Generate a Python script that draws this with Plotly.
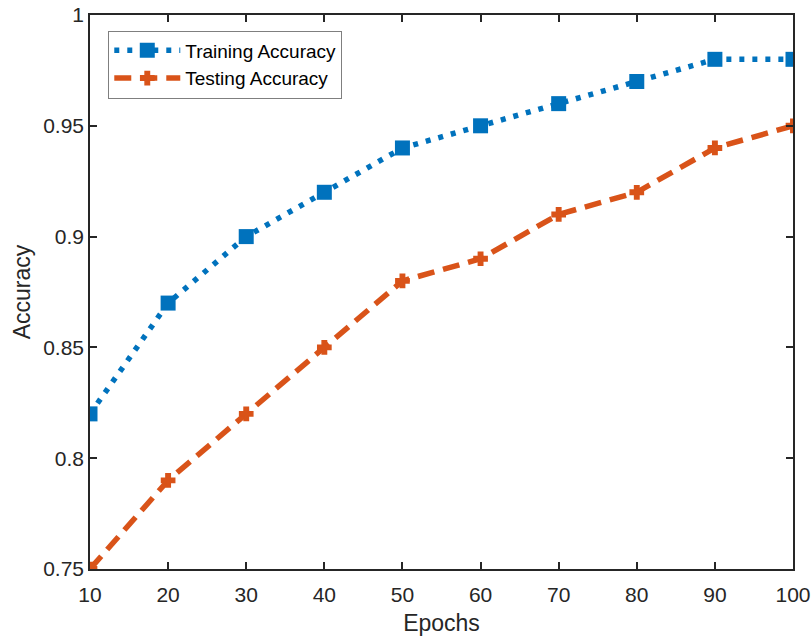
import plotly.graph_objects as go

epochs = [10, 20, 30, 40, 50, 60, 70, 80, 90, 100]
train_acc = [0.82, 0.87, 0.90, 0.92, 0.94, 0.95, 0.96, 0.97, 0.98, 0.98]
test_acc = [0.75, 0.79, 0.82, 0.85, 0.88, 0.89, 0.91, 0.92, 0.94, 0.95]
x_ticks = [10, 20, 30, 40, 50, 60, 70, 80, 90, 100]
y_ticks = [0.75, 0.8, 0.85, 0.9, 0.95, 1.0]
y_labels = ["0.75", "0.8", "0.85", "0.9", "0.95", "1"]

FONT = "Liberation Sans, Arial, Helvetica, sans-serif"

fig = go.Figure()
fig.add_trace(go.Scatter(
    x=epochs, y=train_acc, name="Training Accuracy", mode="lines+markers",
    line=dict(color="#0072BD", width=5.5, dash="5px,8px"),
    marker=dict(symbol="square", size=15, color="#0072BD"),
))
fig.add_trace(go.Scatter(
    x=epochs, y=test_acc, name="Testing Accuracy", mode="lines+markers",
    line=dict(color="#D95319", width=5.5, dash="17px,9px"),
    marker=dict(symbol="cross", size=11, color="#D95319",
                line=dict(color="#D95319", width=1.5)),
))

axis_common = dict(
    showline=True, linecolor="#262626", linewidth=1.5, mirror="allticks",
    ticks="inside", ticklen=7, tickwidth=1.5, tickcolor="#262626",
    showgrid=False, zeroline=False, automargin=False,
    tickfont=dict(family=FONT, size=21, color="#262626"),
)
fig.update_xaxes(range=[10, 100], tickvals=x_ticks, ticklabelstandoff=6,
                 title=dict(text="Epochs", font=dict(family=FONT, size=23, color="#262626"), standoff=10),
                 **axis_common)
fig.update_yaxes(range=[0.75, 1.0], tickvals=y_ticks, ticktext=y_labels,
                 title=dict(text="Accuracy", font=dict(family=FONT, size=23, color="#262626"), standoff=6),
                 **axis_common)

fig.update_layout(
    width=812, height=639,
    margin=dict(l=90, r=19, t=15, b=70),
    plot_bgcolor="white", paper_bgcolor="white",
    legend=dict(x=0.026, y=0.972, xanchor="left", yanchor="top",
                bgcolor="white", bordercolor="#7f7f7f", borderwidth=1,
                font=dict(family=FONT, size=19, color="#000000"),
                itemwidth=66, tracegroupgap=0),
)
fig.write_html("out.html")
